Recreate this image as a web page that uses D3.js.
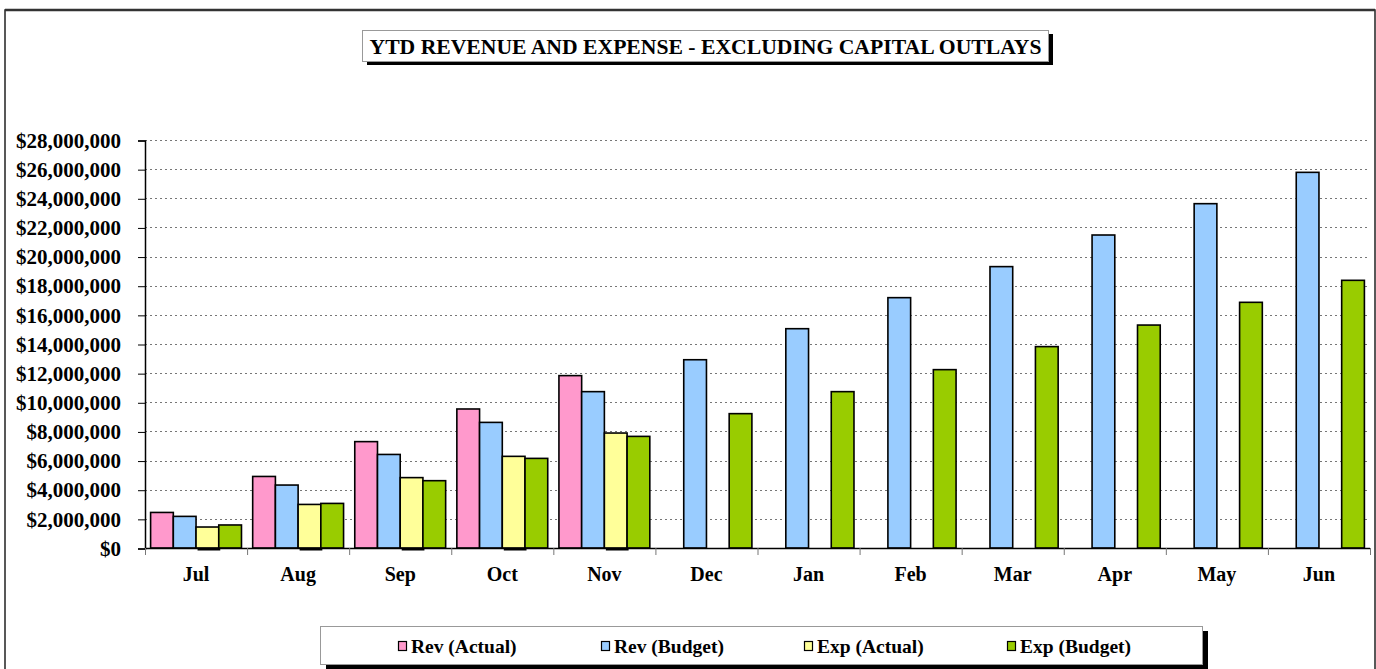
<!DOCTYPE html>
<html>
<head>
<meta charset="utf-8">
<script src="https://cdn.jsdelivr.net/npm/d3@7"></script>
<style>
body { margin: 0; background: #fff; }
svg text { font-family: "Liberation Serif", "Times New Roman", serif; font-weight: bold; }
</style>
</head>
<body>
<div id="chart"></div>
<script>
var months = ["Jul", "Aug", "Sep", "Oct", "Nov", "Dec", "Jan", "Feb", "Mar", "Apr", "May", "Jun"];
var revActual = [2440000, 4910000, 7300000, 9540000, 11830000, null, null, null, null, null, null, null];
var revBudget = [2170000, 4320000, 6420000, 8620000, 10730000, 12920000, 15050000, 17180000, 19310000, 21480000, 23630000, 25780000];
var expActual = [1440000, 2990000, 4830000, 6290000, 7890000, null, null, null, null, null, null, null];
var expBudget = [1580000, 3060000, 4620000, 6150000, 7660000, 9220000, 10730000, 12240000, 13820000, 15300000, 16860000, 18370000];
var seriesNames = ["Rev (Actual)", "Rev (Budget)", "Exp (Actual)", "Exp (Budget)"];
var seriesColors = ["#ff99cc", "#99ccff", "#ffff99", "#99cc00"];
var yTicks = d3.range(0, 28000001, 2000000);
var title = "YTD REVENUE AND EXPENSE - EXCLUDING CAPITAL OUTLAYS";

var series = [revActual, revBudget, expActual, expBudget];

var width = 1376, height = 669;
var svg = d3.select("#chart").append("svg")
	.attr("width", width)
	.attr("height", height);

// outer frame
svg.append("rect")
	.attr("x", 5).attr("y", 10)
	.attr("width", 1370).attr("height", 700)
	.style("fill", "none").style("stroke", "#222").style("stroke-width", 1.5);
svg.append("line")
	.attr("x1", 5).attr("x2", 1375).attr("y1", 10).attr("y2", 10)
	.style("stroke", "#333").style("stroke-width", 2.5);

var plotLeft = 145, plotRight = 1370, plotTop = 140, plotBottom = 548;

var x = d3.scaleBand().domain(months).range([plotLeft, plotRight]);
var xs = d3.scaleBand().domain(d3.range(4)).range([5.6, x.bandwidth() - 5.6]);
var y = d3.scaleLinear().domain([0, 28000000]).range([plotBottom, plotTop]);

// gridlines
svg.append("g").selectAll("line")
	.data(yTicks.filter(d => d > 0))
	.join("line")
	.attr("x1", plotLeft).attr("x2", plotRight)
	.attr("y1", d => Math.round(y(d)) + 0.5).attr("y2", d => Math.round(y(d)) + 0.5)
	.style("stroke", "#777").style("stroke-width", 1)
	.style("stroke-dasharray", "2,3");

// y axis
var yAxis = d3.axisLeft(y)
	.tickValues(yTicks)
	.tickSize(7)
	.tickPadding(17)
	.tickFormat(d => "$" + d3.format(",")(d));
var yG = svg.append("g").attr("transform", "translate(" + plotLeft + ",0.5)").call(yAxis);
yG.select(".domain").style("stroke", "#000").style("stroke-width", 1.5);
yG.selectAll(".tick line").style("stroke", "#000");
yG.selectAll("text").style("font-size", "21px").style("fill", "#000")
	.attr("font-family", null);

// bars
var barG = svg.append("g");
series.forEach((s, k) => {
	var pts = months.map((m, i) => ({ m: m, v: s[i] })).filter(d => d.v != null);
	barG.append("g").selectAll("rect")
		.data(pts)
		.join("rect")
		.attr("x", d => x(d.m) + xs(k))
		.attr("width", xs.bandwidth())
		.attr("y", d => y(d.v))
		.attr("height", d => plotBottom - y(d.v))
		.style("fill", seriesColors[k])
		.style("stroke", "#000")
		.style("stroke-width", 1.6);
});

// dark marks under the Exp (Actual) bars
barG.append("g").selectAll("rect")
	.data(months.filter((m, i) => expActual[i] != null))
	.join("rect")
	.attr("x", d => x(d) + xs(2) + 1.5)
	.attr("width", xs.bandwidth())
	.attr("y", plotBottom)
	.attr("height", 2.5)
	.style("fill", "#000");

// x axis
var xAxis = d3.axisBottom(x).tickSize(0).tickPadding(19);
var xG = svg.append("g").attr("transform", "translate(0," + plotBottom + ")").call(xAxis);
xG.select(".domain").remove();
svg.append("line")
	.attr("x1", plotLeft).attr("x2", plotRight).attr("y1", plotBottom + 0.5).attr("y2", plotBottom + 0.5)
	.style("stroke", "#000").style("stroke-width", 1.5);
svg.append("g").selectAll("line")
	.data(months.concat(["end"]))
	.join("line")
	.attr("x1", (d, i) => plotLeft + i * x.bandwidth() + 0.5)
	.attr("x2", (d, i) => plotLeft + i * x.bandwidth() + 0.5)
	.attr("y1", plotBottom).attr("y2", plotBottom + 7)
	.style("stroke", "#777");
xG.selectAll("text").style("font-size", "20px").style("fill", "#000")
	.attr("font-family", null);

// title
svg.append("rect").attr("x", 367).attr("y", 34).attr("width", 686).attr("height", 31).style("fill", "#000");
svg.append("rect").attr("x", 362.5).attr("y", 30.5).attr("width", 686).attr("height", 31)
	.style("fill", "#fff").style("stroke", "#999").style("stroke-width", 1);
svg.append("text")
	.attr("x", 705.5).attr("y", 53.5)
	.attr("text-anchor", "middle")
	.attr("textLength", 672)
	.attr("lengthAdjust", "spacingAndGlyphs")
	.style("font-size", "21px")
	.text(title);

// legend
svg.append("rect").attr("x", 326).attr("y", 631).attr("width", 882).attr("height", 40).style("fill", "#000");
svg.append("rect").attr("x", 320.5).attr("y", 626.5).attr("width", 882).attr("height", 38)
	.style("fill", "#fff").style("stroke", "#999").style("stroke-width", 1);
var legX = d3.scalePoint().domain(seriesNames).range([398, 1007]);
var items = svg.append("g").selectAll("g")
	.data(seriesNames)
	.join("g")
	.attr("transform", d => "translate(" + legX(d) + ",646)");
items.append("rect")
	.attr("x", 0.5).attr("y", -4.5).attr("width", 8).attr("height", 9)
	.style("fill", (d, i) => seriesColors[i])
	.style("stroke", "#000").style("stroke-width", 1.2);
items.append("text")
	.attr("x", 13).attr("y", 6.5)
	.style("font-size", "19.5px")
	.text(d => d);
</script>
</body>
</html>
